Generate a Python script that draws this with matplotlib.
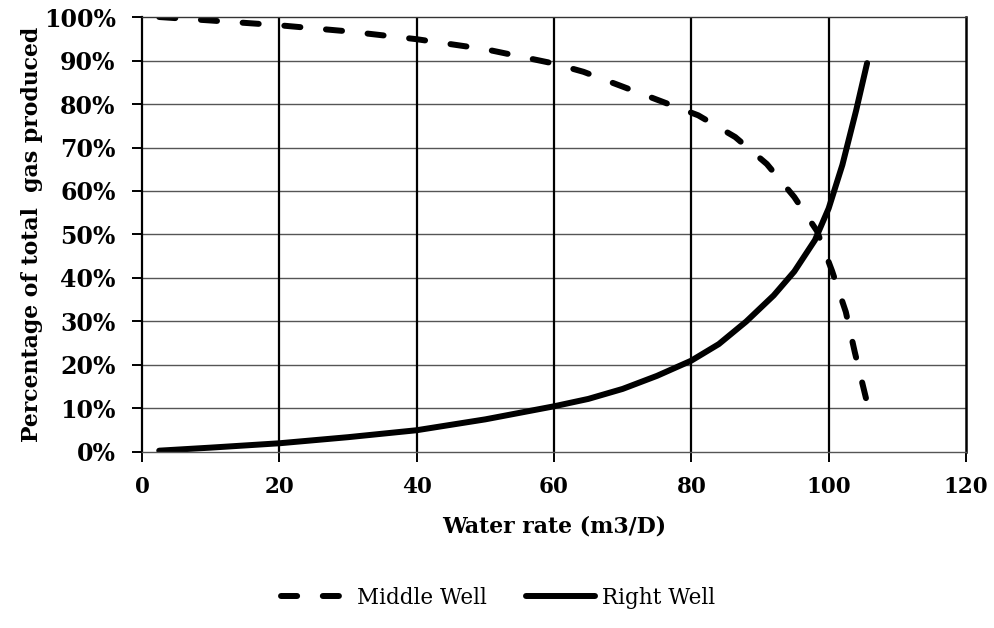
import matplotlib.pyplot as plt
from matplotlib.ticker import FuncFormatter

# Middle well (dashed)
middle_x = [2.5, 10, 20, 30, 40, 50, 60, 64.3, 70, 76, 81, 86.4, 91, 95, 98.3, 100.5, 102.5, 103.8, 105.6]
middle_y = [100, 99.2, 98.1, 96.7, 94.9, 92.6, 89.3, 87.4, 84, 80.4, 77.4, 72.4, 66.2, 58.6, 50.8, 41.6, 32.2, 23, 11.3]

# Right well (solid)
right_x = [2.5, 10, 20, 30, 40, 50, 60, 65, 70, 75, 80, 84, 88, 92, 95, 98, 100, 102, 104, 105.6]
right_y = [0.3, 1, 2, 3.4, 5, 7.5, 10.5, 12.2, 14.5, 17.5, 21, 24.8, 30, 36, 41.5, 48.7, 56, 66, 78.5, 89.4]

x_ticks = [0, 20, 40, 60, 80, 100, 120]
y_ticks = list(range(0, 101, 10))

plt.rcParams['font.family'] = 'DejaVu Serif'

fig = plt.figure(figsize=(9.94, 6.28), dpi=100)
ax = fig.add_axes([0.1429, 0.2803, 0.8289, 0.6926])

ax.plot(middle_x, middle_y, color='black', lw=4.3, ls=(0, (2.7, 4.3)),
        dash_capstyle='round', solid_capstyle='round', solid_joinstyle='round',
        label='Middle Well')
ax.plot(right_x, right_y, color='black', lw=4.3, solid_capstyle='round',
        solid_joinstyle='round', label='Right Well')

ax.set_xlim(0, 120)
ax.set_ylim(0, 100)
ax.set_xticks(x_ticks)
ax.set_yticks(y_ticks)
ax.yaxis.set_major_formatter(FuncFormatter(lambda v, p: f'{int(v)}%'))

for y in y_ticks[1:-1]:
    ax.axhline(y, color='#555555', lw=1.0, zorder=0)
for x in x_ticks[1:-1]:
    ax.axvline(x, color='black', lw=1.6, zorder=0)

ax.spines['left'].set_linewidth(1.6)
ax.spines['right'].set_linewidth(1.8)
ax.spines['top'].set_linewidth(1.0)
ax.spines['top'].set_color('#333333')
ax.spines['bottom'].set_linewidth(1.0)
ax.spines['bottom'].set_color('#555555')

ax.tick_params(axis='both', direction='out', length=7, width=1.4)
ax.tick_params(axis='x', pad=10, labelsize=15.5)
ax.tick_params(axis='y', pad=12, labelsize=17)
for lab in ax.get_xticklabels() + ax.get_yticklabels():
    lab.set_fontweight('bold')

ax.set_xlabel('Water rate (m3/D)', fontsize=15.8, fontweight='bold', labelpad=13)
ax.set_ylabel('Percentage of total  gas produced', fontsize=15.8, fontweight='bold', labelpad=0.5)

fig.legend(loc='center', bbox_to_anchor=(0.501, 0.048), ncol=2, frameon=False,
           fontsize=15.5, handlelength=3.2, columnspacing=1.8, handletextpad=0.35)

fig.savefig('out.png', dpi=100)
